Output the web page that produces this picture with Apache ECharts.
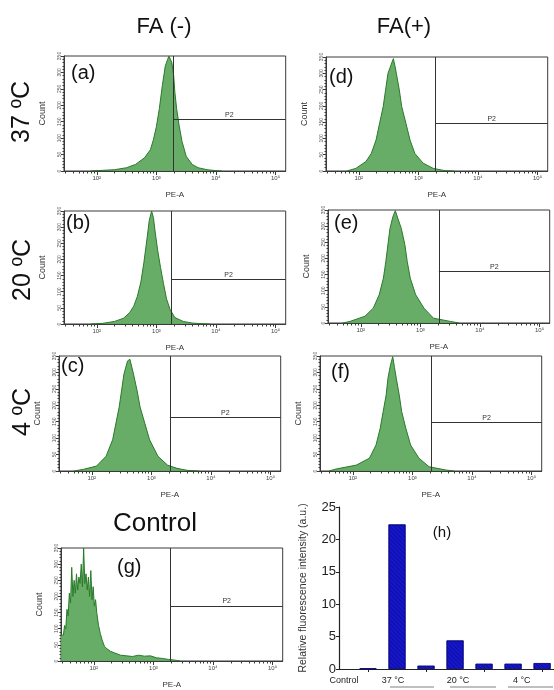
<!DOCTYPE html>
<html>
<head>
<meta charset="utf-8">
<script src="https://cdn.jsdelivr.net/npm/echarts@6/dist/echarts.min.js"></script>
<style>
  html, body { margin: 0; background: #fff; }
  #chart { width: 554px; height: 690px; }
</style>
</head>
<body>
<div id="chart"></div>
<script>
// histogram data: [log10(PE-A), count]
const histA = [[1.9,0],[2.1,2],[2.3,4],[2.5,10],[2.65,20],[2.8,40],[2.9,65],[2.95,95],[3.0,135],[3.05,190],[3.1,260],[3.15,320],[3.19,340],[3.21,350],[3.24,344],[3.26,330],[3.29,290],[3.31,240],[3.34,190],[3.38,140],[3.43,90],[3.5,45],[3.6,20],[3.7,10],[3.85,4],[4.0,1],[4.1,0]]
const histB = [[1.9,0],[2.1,2],[2.3,8],[2.45,18],[2.55,35],[2.62,55],[2.68,85],[2.74,130],[2.79,190],[2.84,260],[2.88,320],[2.92,350],[2.95,330],[2.98,285],[3.02,230],[3.07,175],[3.12,125],[3.17,78],[3.23,45],[3.31,20],[3.45,8],[3.6,3],[3.75,1],[3.9,0]]
const histC = [[1.7,0],[1.86,5],[2.08,15],[2.24,45],[2.35,95],[2.46,195],[2.54,295],[2.6,335],[2.64,340],[2.7,295],[2.76,245],[2.81,195],[2.89,145],[2.97,95],[3.11,45],[3.27,18],[3.43,8],[3.6,2],[3.8,0]]
const histD = [[1.8,0],[1.95,8],[2.12,29],[2.21,54],[2.29,95],[2.35,147],[2.41,198],[2.45,249],[2.49,300],[2.54,325],[2.58,345],[2.61,320],[2.63,300],[2.68,249],[2.72,198],[2.79,147],[2.86,95],[2.94,54],[3.08,24],[3.25,8],[3.45,1],[3.6,0]]
const histE = [[1.7,0],[1.82,5],[2.07,21],[2.21,46],[2.31,88],[2.38,139],[2.42,190],[2.455,242],[2.49,293],[2.54,330],[2.58,348],[2.62,325],[2.68,293],[2.74,242],[2.78,190],[2.83,139],[2.92,88],[3.06,46],[3.22,15],[3.5,5],[3.65,0]]
const histF = [[1.6,0],[1.72,6],[2.06,18],[2.28,39],[2.39,79],[2.46,130],[2.51,181],[2.56,231],[2.59,282],[2.63,320],[2.67,348],[2.7,315],[2.73,282],[2.78,231],[2.82,181],[2.89,130],[2.97,79],[3.11,39],[3.28,13],[3.56,3],[3.7,0]]
const histG = [[1.45,80],[1.49,80],[1.51,110],[1.53,100],[1.55,160],[1.57,140],[1.59,210],[1.61,180],[1.63,290],[1.65,200],[1.67,250],[1.69,210],[1.71,270],[1.73,220],[1.75,260],[1.77,240],[1.79,300],[1.81,230],[1.83,350],[1.85,240],[1.87,270],[1.89,220],[1.91,260],[1.93,200],[1.95,280],[1.97,190],[1.99,230],[2.01,170],[2.03,190],[2.05,150],[2.08,110],[2.11,85],[2.14,65],[2.18,45],[2.22,38],[2.28,30],[2.35,25],[2.45,18],[2.55,16],[2.65,14],[2.75,18],[2.85,15],[2.95,16],[3.05,10],[3.15,8],[3.25,5],[3.35,3],[3.45,0]]

// gate P2: vertical position (log) and horizontal level (count)
const gateX = [3.28, 3.25, 3.31, 3.29, 3.31, 3.32, 3.29]
const gateY = [158, 139, 164, 146, 159, 148, 171]

const xMajor = [2, 3, 4, 5]
const xMajorLabels = ['10²', '10³', '10⁴', '10⁵']

// bar chart (h)
const barX = [1, 2, 3, 4, 5, 6, 7]
const barValues = [0.1, 22.3, 0.5, 4.4, 0.8, 0.8, 0.9]
const groupLabels = ['Control', '37 °C', '20 °C', '4 °C']
const groupLabelPos = [0.17, 1.86, 4.1, 6.3]

const hists = [histA, histB, histC, histD, histE, histF, histG]
const letters = ['(a)', '(b)', '(c)', '(d)', '(e)', '(f)', '(g)']

// panel layout (px)
const panels = [
  { left: 64, top: 56, height: 115, lx: 71, ly: 63 },
  { left: 64, top: 211, height: 113, lx: 66, ly: 213 },
  { left: 59, top: 356, height: 115, lx: 61, ly: 356 },
  { left: 326, top: 57, height: 114, lx: 329, ly: 67 },
  { left: 328, top: 210, height: 113, lx: 334, ly: 213 },
  { left: 320, top: 356, height: 115, lx: 331, ly: 362 },
  { left: 61, top: 548, height: 113, lx: 117, ly: 557 },
]
const XMIN = 1.45
const XMAX = 5.17
const PW = 221.7

const xMinor = []
for (let d = 1; d <= 4; d++) {
  for (let k = 2; k <= 9; k++) {
    const v = Math.log10(k * Math.pow(10, d))
    if (v > XMIN && v < XMAX) xMinor.push(v)
  }
}

const font = 'Liberation Sans, Arial, sans-serif'
const axisColor = '#3a3a3a'

const grid = []
const xAxis = []
const yAxis = []
const series = []
const graphic = []

panels.forEach((p, i) => {
  grid.push({
    left: p.left, top: p.top, width: PW, height: p.height,
    show: true, borderColor: axisColor, borderWidth: 1,
  })
  xAxis.push({
    gridIndex: i, type: 'value', min: XMIN, max: XMAX,
    axisLine: { show: true, onZero: false, lineStyle: { color: axisColor } },
    axisTick: { show: true, customValues: xMajor, length: 4, lineStyle: { color: axisColor } },
    axisLabel: {
      customValues: xMajor, fontSize: 6, margin: 4, color: '#444', fontFamily: font,
      formatter: v => xMajorLabels[xMajor.indexOf(v)],
    },
    splitLine: { show: false },
    name: 'PE-A', nameLocation: 'middle', nameGap: 20,
    nameTextStyle: { fontSize: 8, color: '#333', fontFamily: font },
  })
  xAxis.push({
    gridIndex: i, type: 'value', min: XMIN, max: XMAX, position: 'bottom',
    axisLine: { show: false },
    axisTick: { show: true, customValues: xMinor, length: 2.5, lineStyle: { color: axisColor } },
    axisLabel: { show: false },
    splitLine: { show: false },
  })
  yAxis.push({
    gridIndex: i, type: 'value', min: 0, max: 350, interval: 50,
    axisLine: { show: true, lineStyle: { color: axisColor } },
    axisTick: { show: true, length: 3, lineStyle: { color: axisColor } },
    minorTick: { show: true, splitNumber: 5, length: 1.5, lineStyle: { color: axisColor } },
    axisLabel: { rotate: 90, fontSize: 5, margin: 2, color: '#555', fontFamily: font },
    splitLine: { show: false },
    name: 'Count', nameLocation: 'middle', nameGap: 17, nameRotate: 90,
    nameTextStyle: { fontSize: 9, color: '#333', fontFamily: font },
  })
  series.push({
    type: 'line',
    xAxisIndex: 2 * i, yAxisIndex: i,
    data: hists[i],
    showSymbol: false,
    lineStyle: { color: '#2a7a2a', width: 1 },
    areaStyle: { color: '#5fa85f', opacity: 0.95 },
    silent: true,
    markLine: {
      silent: true, symbol: 'none', animation: false,
      lineStyle: { color: '#333', width: 1, type: 'solid' },
      label: { show: false },
      data: [
        [{ coord: [gateX[i], 0] }, { coord: [gateX[i], 350] }],
        [
          {
            coord: [gateX[i], gateY[i]],
            label: {
              show: true, position: 'insideMiddleTop', formatter: 'P2',
              fontSize: 7, color: '#333', distance: 1, fontFamily: font,
            },
          },
          { coord: [XMAX, gateY[i]] },
        ],
      ],
    },
  })
  graphic.push({
    type: 'text', left: p.lx, top: p.ly,
    style: { text: letters[i], font: '20px ' + font, fill: '#111' },
  })
})

// bar chart (h)
grid.push({ left: 339, top: 507, width: 215, height: 162 })
xAxis.push({
  gridIndex: 7, type: 'value', min: 0, max: 7.41,
  axisLine: { show: true, lineStyle: { color: '#222', width: 1.2 } },
  axisTick: { show: true, customValues: [1, 3, 5, 7], length: 3, lineStyle: { color: '#222' } },
  axisLabel: {
    customValues: groupLabelPos, fontSize: 9, margin: 7, color: '#222', fontFamily: font,
    formatter: v => groupLabels[groupLabelPos.indexOf(v)],
  },
  splitLine: { show: false },
})
yAxis.push({
  gridIndex: 7, type: 'value', min: 0, max: 25, interval: 5,
  axisLine: { show: true, lineStyle: { color: '#222', width: 1.2 } },
  axisTick: { show: true, length: 3, lineStyle: { color: '#222' } },
  axisLabel: { fontSize: 13, margin: 3, color: '#222', fontFamily: font },
  splitLine: { show: false },
  name: 'Relative fluorescence intensity (a.u.)', nameLocation: 'middle', nameGap: 30,
  nameTextStyle: { fontSize: 10.5, color: '#333', fontFamily: font },
})
series.push({
  type: 'bar',
  xAxisIndex: 14, yAxisIndex: 7,
  data: barX.map((x, i) => [x, barValues[i]]),
  barWidth: 17,
  itemStyle: {
    color: '#1616cc', borderColor: '#05057a', borderWidth: 0.6,
    decal: {
      symbol: 'rect', dashArrayX: [1, 0], dashArrayY: [1, 2],
      rotation: Math.PI / 4, color: 'rgba(0,0,90,0.35)',
    },
  },
})

// headings
graphic.push(
  { type: 'text', x: 164, y: 27, style: { text: 'FA (-)', font: '22px ' + font, fill: '#111', align: 'center', verticalAlign: 'middle' } },
  { type: 'text', x: 404, y: 27, style: { text: 'FA(+)', font: '22px ' + font, fill: '#111', align: 'center', verticalAlign: 'middle' } },
  { type: 'text', x: 155, y: 524, style: { text: 'Control', font: '26px ' + font, fill: '#111', align: 'center', verticalAlign: 'middle' } },
  { type: 'text', x: 22, y: 112, rotation: Math.PI / 2, style: { text: '37 ºC', font: '25px ' + font, fill: '#111', align: 'center', verticalAlign: 'middle' } },
  { type: 'text', x: 23, y: 270, rotation: Math.PI / 2, style: { text: '20 ºC', font: '25px ' + font, fill: '#111', align: 'center', verticalAlign: 'middle' } },
  { type: 'text', x: 23, y: 412, rotation: Math.PI / 2, style: { text: '4 ºC', font: '25px ' + font, fill: '#111', align: 'center', verticalAlign: 'middle' } },
  { type: 'text', x: 442, y: 533, style: { text: '(h)', font: '15px ' + font, fill: '#111', align: 'center', verticalAlign: 'middle' } },
  { type: 'line', shape: { x1: 390, y1: 687, x2: 434, y2: 687 }, style: { stroke: '#aaa', lineWidth: 1.5 } },
  { type: 'line', shape: { x1: 450, y1: 687, x2: 496, y2: 687 }, style: { stroke: '#aaa', lineWidth: 1.5 } },
  { type: 'line', shape: { x1: 508, y1: 687, x2: 553, y2: 687 }, style: { stroke: '#aaa', lineWidth: 1.5 } },
)

const chart = echarts.init(document.getElementById('chart'), null, { renderer: 'canvas' })
chart.setOption({
  animation: false,
  backgroundColor: '#fff',
  grid: grid,
  xAxis: xAxis,
  yAxis: yAxis,
  series: series,
  graphic: graphic,
})
</script>
</body>
</html>
